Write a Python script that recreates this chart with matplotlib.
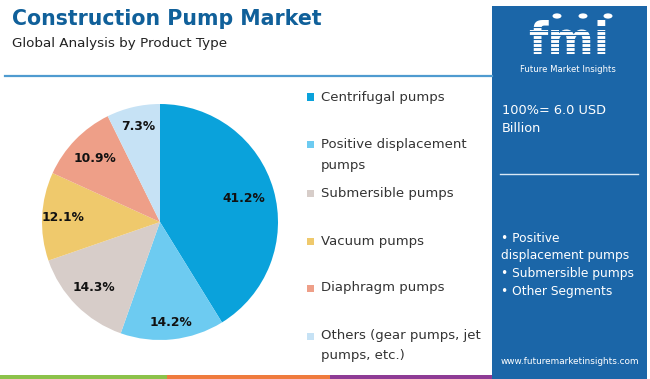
import matplotlib
matplotlib.use("Agg")
import matplotlib.pyplot as plt
from matplotlib.patches import Rectangle, Circle

W, H = 650, 379

segments = ["Centrifugal pumps", "Positive displacement\npumps", "Submersible pumps",
            "Vacuum pumps", "Diaphragm pumps", "Others (gear pumps, jet\npumps, etc.)"]
shares = [41.2, 14.2, 14.3, 12.1, 10.9, 7.3]
colors = ["#0aa2db", "#6dcbf1", "#d7cdc9", "#efc96c", "#ee9f88", "#c6e2f5"]
total_lines = ["100%= 6.0 USD", "Billion"]
top_segments = ["• Positive", "displacement pumps", "• Submersible pumps", "• Other Segments"]

BLUE = "#1b66a8"
FONT = "DejaVu Sans"
# radial position of each percentage label, as a fraction of the radius
label_dist = [0.74, 0.86, 0.79, 0.82, 0.77, 0.83]


def fx(x):
    return x / W


def fy(y):
    return 1 - y / H


fig = plt.figure(figsize=(W / 100, H / 100), dpi=100)
fig.patch.set_facecolor("white")

# title block
fig.text(fx(12), fy(19), "Construction Pump Market", fontsize=14.8, weight="bold",
         color="#10609a", va="center", ha="left", family=FONT)
fig.text(fx(12), fy(43), "Global Analysis by Product Type", fontsize=9.7,
         color="#222222", va="center", ha="left", family=FONT)
fig.add_artist(plt.Line2D([fx(5), fx(492)], [fy(76), fy(76)], color="#4f9bd0", lw=1.6))

# bottom stripes
for x0, x1, c in [(0, 167, "#8cc24a"), (167, 330, "#ef7b3e"), (330, 494, "#8e3b95")]:
    fig.add_artist(Rectangle((fx(x0), 0), fx(x1) - fx(x0), 4 / H, color=c, lw=0))

# pie
cx, cy, r = 160, 222, 118
ax = fig.add_axes([fx(cx - r), fy(cy + r), 2 * r / W, 2 * r / H])
wedges, _, autotexts = ax.pie(shares, colors=colors, startangle=90, counterclock=False,
                              autopct="%.1f%%", pctdistance=1.0,
                              wedgeprops=dict(linewidth=0))
for t, d in zip(autotexts, label_dist):
    x, y = t.get_position()
    t.set_position((x * d, y * d))
    t.set_fontsize(8.8)
    t.set_fontweight("bold")
    t.set_color("#111111")
    t.set_family(FONT)
ax.set_xlim(-1, 1)
ax.set_ylim(-1, 1)
ax.set_aspect("equal")
ax.axis("off")

# legend
ly = [97, 145, 193, 241, 288, 336]
for y, lab, c in zip(ly, segments, colors):
    fig.add_artist(Rectangle((fx(307), fy(y + 3.5)), 7 / W, 7 / H, color=c, lw=0))
    for k, line in enumerate(lab.split("\n")):
        fig.text(fx(321), fy(y + 20 * k), line, fontsize=9.5, color="#333333",
                 va="center", ha="left", family=FONT)

# right panel
fig.add_artist(Rectangle((fx(492), 0), fx(647) - fx(492), fy(6), color=BLUE, lw=0))
fig.text(fx(569), fy(54), "fmi", fontsize=32, weight="bold", color="white",
         ha="center", va="baseline", family=FONT)
for yy in range(27, 56, 4):
    fig.add_artist(plt.Line2D([fx(514), fx(628)], [fy(yy), fy(yy)], color=BLUE,
                              lw=0.8, zorder=5))
for xc in (557, 583, 608):
    fig.add_artist(Circle((fx(xc), fy(16)), 4.5 / W, color="white", lw=0, zorder=6))
fig.text(fx(568), fy(69), "Future Market Insights", fontsize=6.1, color="white",
         ha="center", va="center", family=FONT)
for k, line in enumerate(total_lines):
    fig.text(fx(502), fy(110 + 19 * k), line, fontsize=9.3, color="white", ha="left",
             va="center", family=FONT)
fig.add_artist(plt.Line2D([fx(500), fx(638)], [fy(174), fy(174)], color="#d9e8f5", lw=1))
for y, line in zip([238, 256, 273, 292], top_segments):
    fig.text(fx(501), fy(y), line, fontsize=8.8, color="white", ha="left",
             va="center", family=FONT)
fig.text(fx(570), fy(362), "www.futuremarketinsights.com", fontsize=6.4, color="white",
         ha="center", va="center", family=FONT)

fig.savefig("out.png", dpi=100, facecolor="white")
